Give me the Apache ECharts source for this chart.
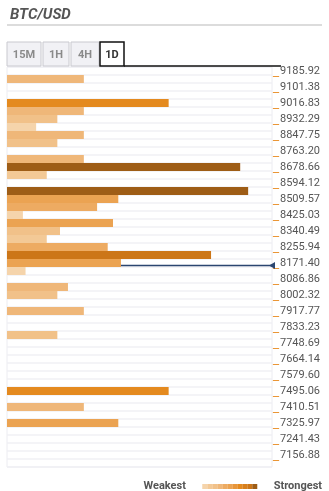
<!DOCTYPE html>
<html>
<head>
<meta charset="utf-8">
<script src="https://cdn.jsdelivr.net/npm/echarts@6/dist/echarts.min.js"></script>
<style>
html,body{margin:0;padding:0;background:#fff;}
#confluence{width:329px;height:491px;}
</style>
</head>
<body>
<div id="confluence"></div>
<script>
// price ticks, one every two rows (top to bottom)
var priceLabels = ['9185.92','9101.38','9016.83','8932.29','8847.75','8763.20','8678.66','8594.12','8509.57',
    '8425.03','8340.49','8255.94','8171.40','8086.86','8002.32','7917.77','7833.23','7748.69','7664.14',
    '7579.60','7495.06','7410.51','7325.97','7241.43','7156.88'];
// confluence strength per row (0-100), null = no level
var strength = [null,29,null,null,61,29,19,11,29,19,
    null,29,88,15,null,91,42,34,6,40,
    20,15,38,77,43,7,null,23,19,null,
    29,null,null,19,null,null,null,null,null,null,
    61,null,29,null,42,null,null,null,null,null];
var currentPrice = 8158;
var tabNames = ['15M','1H','4H','1D'];
var activeTab = '1D';
// weakest -> strongest
var levelColors = ['#f5d4ab','#f3c996','#f1c189','#efb779','#edab62','#eba352','#e8963a','#e48a1f','#d87f1b','#cc7618','#9e5d16'];
var levelBreaks = [0,12,18,22,31,38,50,58,66,74,84,100];

var fontColor = '#555';

var rowStep = (parseFloat(priceLabels[0]) - parseFloat(priceLabels[priceLabels.length - 1])) / (strength.length - 2);
var priceTop = parseFloat(priceLabels[0]) + rowStep / 2;
var priceBottom = priceTop - rowStep * strength.length;

var rowIds = strength.map(function (v, i) { return 'r' + i; });
var barData = strength.map(function (v, i) { return [v === null ? '-' : v, rowIds[i]]; });

// tabs (15M 1H 4H 1D)
var tabX = [7, 43, 71, 100], tabW = [34, 26, 28, 24];
var tabs = [];
for (var i = 0; i < tabNames.length; i++) {
    var on = tabNames[i] === activeTab;
    tabs.push({
        type: 'rect', x: tabX[i], y: 42,
        shape: { width: tabW[i], height: 24 },
        style: { fill: on ? '#fff' : '#f1f1f5', stroke: on ? '#111' : '#c9c9cf', lineWidth: on ? 1.5 : 1 },
        z: on ? 11 : 10
    });
    tabs.push({
        type: 'text', x: tabX[i] + tabW[i] / 2, y: 55,
        style: {
            text: tabNames[i], fill: on ? '#333' : '#8a8a8a', font: 'bold 11px Roboto',
            align: 'center', verticalAlign: 'middle'
        },
        z: 12
    });
}

var chart = echarts.init(document.getElementById('confluence'));
chart.setOption({
    animation: false,
    title: {
        text: 'BTC/USD', left: 5, top: 3,
        textStyle: { color: fontColor, fontSize: 15, fontWeight: 'bold', fontStyle: 'italic', fontFamily: 'Roboto' }
    },
    graphic: [
        { type: 'rect', x: 7, y: 24, shape: { width: 315, height: 2 }, style: { fill: '#dcdcdc' } },
        { type: 'line', shape: { x1: 124, y1: 66, x2: 281, y2: 66 }, style: { stroke: '#111', lineWidth: 1.5 }, z: 11 }
    ].concat(tabs),
    grid: {
        left: 7, right: 57, top: 67, height: 400,
        show: true, borderColor: '#ececf1', borderWidth: 1
    },
    xAxis: {
        type: 'value', min: 0, max: 100, show: false
    },
    yAxis: [
        {
            type: 'category', inverse: true, position: 'right',
            data: rowIds,
            axisLine: { show: false },
            axisTick: { show: false },
            splitLine: { show: true, interval: 0, lineStyle: { color: '#f0f0f5', width: 1.5 } },
            axisLabel: {
                interval: 0, margin: 1,
                formatter: function (value, index) {
                    if (index % 2) return '';
                    return '{u|_}{t|' + priceLabels[index / 2] + '}';
                },
                rich: {
                    u: { color: '#e8891d', fontSize: 12, fontFamily: 'DejaVu Sans', padding: [0, 1, 0, 0] },
                    t: { color: fontColor, fontSize: 11, fontFamily: 'Roboto' }
                }
            }
        },
        { type: 'value', min: priceBottom, max: priceTop, show: false }
    ],
    visualMap: {
        type: 'piecewise', seriesIndex: 0, dimension: 0,
        pieces: levelColors.map(function (c, i) {
            return { min: levelBreaks[i], max: levelBreaks[i + 1], color: c };
        }),
        orient: 'horizontal', itemSymbol: 'rect',
        itemWidth: 5, itemHeight: 5, itemGap: 0,
        showLabel: false, selectedMode: false,
        text: ['      Strongest', 'Weakest      '],
        right: -8, bottom: -16,
        textStyle: { color: fontColor, fontSize: 11, fontWeight: 'bold', fontFamily: 'Roboto' }
    },
    series: [
        {
            type: 'bar', data: barData,
            barCategoryGap: '0%',
            z: 3
        },
        {
            type: 'line', xAxisIndex: 0, yAxisIndex: 1,
            data: [
                { value: [0, currentPrice], symbol: 'none' },
                { value: [100, currentPrice], symbol: 'triangle', symbolRotate: 90, symbolSize: [7, 6] }
            ],
            lineStyle: { color: '#2b4670', width: 1.5 },
            itemStyle: { color: '#2b4670' },
            clip: false, silent: true,
            z: 1
        }
    ]
});
</script>
</body>
</html>
